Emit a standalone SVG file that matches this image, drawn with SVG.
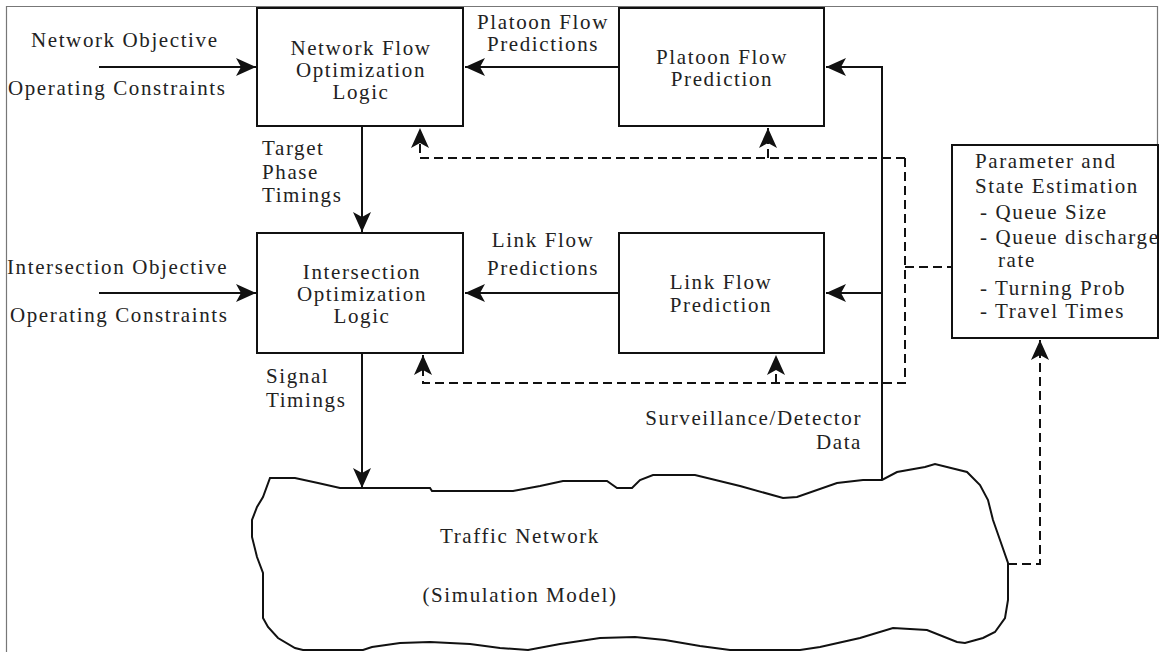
<svg xmlns="http://www.w3.org/2000/svg" width="1159" height="652" viewBox="0 0 1159 652">
<style>
.t{font-family:"Liberation Serif","Times New Roman",serif;font-size:21px;letter-spacing:1.6px;fill:#222}
.m{text-anchor:middle}
.e{text-anchor:end}
.box{fill:#fff;stroke:#111;stroke-width:2}
.ln{fill:none;stroke:#111;stroke-width:2}
.dl{fill:none;stroke:#111;stroke-width:2;stroke-dasharray:9,5}
.frame{fill:none;stroke:#777;stroke-width:1.2}
</style>
<defs>
<marker id="ah" viewBox="-21 -10 22 20" refX="0" refY="0" markerWidth="22" markerHeight="20" orient="auto" markerUnits="userSpaceOnUse">
<path d="M0,0 L-20,-9 L-15,0 L-20,9 Z" fill="#111"/>
</marker>
</defs>
<rect width="1159" height="652" fill="#fff"/>
<path class="frame" d="M6.5,652 V6.5 H1157.5 V145"/>

<g id="connectors">
<path class="ln" d="M99,67 H256" marker-end="url(#ah)"/>
<path class="ln" d="M619,67 H465" marker-end="url(#ah)"/>
<path class="ln" d="M362,126 V232" marker-end="url(#ah)"/>
<path class="ln" d="M99,293 H256" marker-end="url(#ah)"/>
<path class="ln" d="M619,293 H465" marker-end="url(#ah)"/>
<path class="ln" d="M362,353 V488" marker-end="url(#ah)"/>
<path class="ln" d="M882,480 V67 H826" marker-end="url(#ah)"/>
<path class="ln" d="M882,293 H826" marker-end="url(#ah)"/>
<path class="dl" d="M905,158 H420 V128" marker-end="url(#ah)"/>
<path class="dl" d="M768,158 V128" marker-end="url(#ah)"/>
<path class="dl" d="M905,158 V383 H423 V355" marker-end="url(#ah)"/>
<path class="dl" d="M776,383 V355" marker-end="url(#ah)"/>
<path class="dl" d="M905,267 H951"/>
<path class="dl" d="M1008,564 H1040 V340" marker-end="url(#ah)"/>
</g>

<g id="network-flow-optimization">
<rect class="box" x="257" y="8" width="206" height="118"/>
<text class="t m" x="361" y="55">Network Flow</text>
<text class="t m" x="361" y="77">Optimization</text>
<text class="t m" x="361" y="99">Logic</text>
</g>

<g id="platoon-flow-prediction">
<rect class="box" x="619" y="8" width="205" height="118"/>
<text class="t m" x="722" y="64">Platoon Flow</text>
<text class="t m" x="722" y="86">Prediction</text>
</g>

<g id="intersection-optimization">
<rect class="box" x="257" y="233" width="206" height="120"/>
<text class="t m" x="362" y="279">Intersection</text>
<text class="t m" x="362" y="301">Optimization</text>
<text class="t m" x="362" y="323">Logic</text>
</g>

<g id="link-flow-prediction">
<rect class="box" x="619" y="233" width="205" height="120"/>
<text class="t m" x="721" y="289">Link Flow</text>
<text class="t m" x="721" y="312">Prediction</text>
</g>

<g id="parameter-state-estimation">
<rect class="box" x="952" y="145" width="206" height="193"/>
<text class="t" x="975" y="168">Parameter and</text>
<text class="t" x="975" y="193">State Estimation</text>
<text class="t" x="980" y="219">- Queue Size</text>
<text class="t" x="980" y="244">- Queue discharge</text>
<text class="t" x="998" y="267">rate</text>
<text class="t" x="980" y="295">- Turning Prob</text>
<text class="t" x="980" y="318">- Travel Times</text>
</g>

<g id="traffic-network">
<path class="ln" d="M270,478 L295,478 L318,483 L340,488 L430,488 L432,491 L513,491 L540,486 L563,481 L607,481 L617,488 L632,488 L640,480 L653,475 L695,475 L740,486 L783,498 L797,497 L837,483 L863,480 L882,480 L897,472 L925,467 L935,464 L955,469 L967,472 L980,485 L988,500 L993,520 L1000,540 L1008,563 L1008,600 L1005,618 L995,632 L983,638 L965,643 L957,642 L927,630 L893,628 L860,638 L820,647 L800,650 L730,650 L700,646 L665,640 L635,637 L600,638 L560,644 L528,650 L500,648 L470,644 L430,642 L400,643 L372,647 L363,650 L303,650 L295,648 L278,638 L268,627 L263,618 L263,600 L263,573 L257,557 L252,537 L252,520 L257,507 L263,497 Z" fill="#fff"/>
<text class="t m" x="520" y="543">Traffic Network</text>
<text class="t m" x="520" y="602">(Simulation Model)</text>
</g>

<g id="labels">
<text class="t" x="31" y="47">Network Objective</text>
<text class="t" x="8" y="95">Operating Constraints</text>
<text class="t" x="7" y="274">Intersection Objective</text>
<text class="t" x="10" y="322">Operating Constraints</text>
<text class="t m" x="543" y="29">Platoon Flow</text>
<text class="t m" x="543" y="51">Predictions</text>
<text class="t m" x="543" y="247">Link Flow</text>
<text class="t m" x="543" y="275">Predictions</text>
<text class="t" x="262" y="155">Target</text>
<text class="t" x="262" y="179">Phase</text>
<text class="t" x="262" y="202">Timings</text>
<text class="t" x="266" y="383">Signal</text>
<text class="t" x="266" y="407">Timings</text>
<text class="t e" x="862" y="425">Surveillance/Detector</text>
<text class="t e" x="862" y="449">Data</text>
</g>
</svg>
